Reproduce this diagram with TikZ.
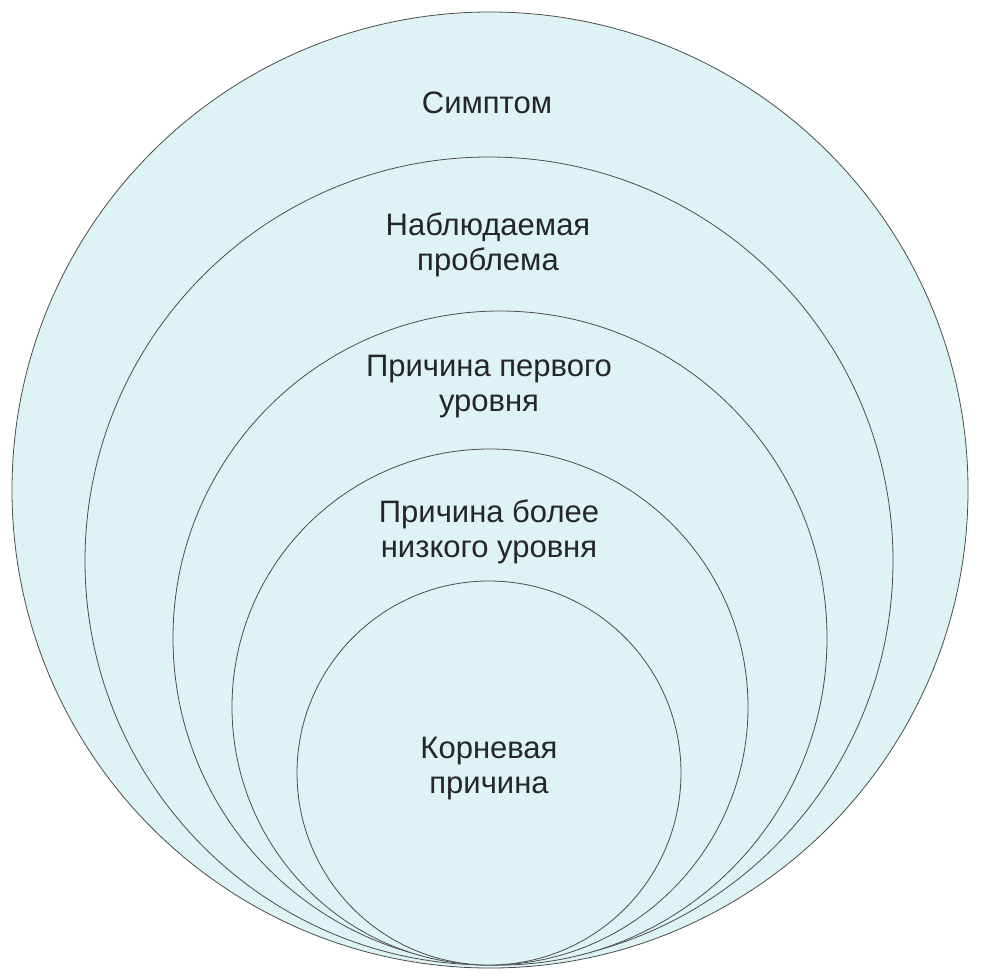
\documentclass[tikz,border=0pt]{standalone}
\usepackage{fontspec}
\setmainfont{Liberation Sans}
\begin{document}
\begin{tikzpicture}[x=1pt,y=-1pt,
  ring/.style={draw=black!70,line width=0.8pt,fill={rgb,255:red,222;green,243;blue,243}},
  lbl/.style={align=center,font=\fontsize{31}{35}\selectfont,text=black!85}]
\useasboundingbox (0,0) rectangle (981,978);
\fill[white] (0,0) rectangle (981,978);
\draw[ring] (490,490) circle (478);
\draw[ring] (489,561) circle (404);
\draw[ring] (500,638) circle (327);
\draw[ring] (490,707) circle (258);
\draw[ring] (489,773) circle (192);
\node[lbl] (a) at (487,103) {Симптом};
\node[lbl] (b) at (488,245) {Наблюдаемая\\проблема};
\node[lbl] (c) at (489,387) {Причина первого\\уровня};
\node[lbl] (d) at (489,532) {Причина более\\низкого уровня};
\node[lbl] (e) at (489,769) {Корневая\\причина};
\end{tikzpicture}
\end{document}
